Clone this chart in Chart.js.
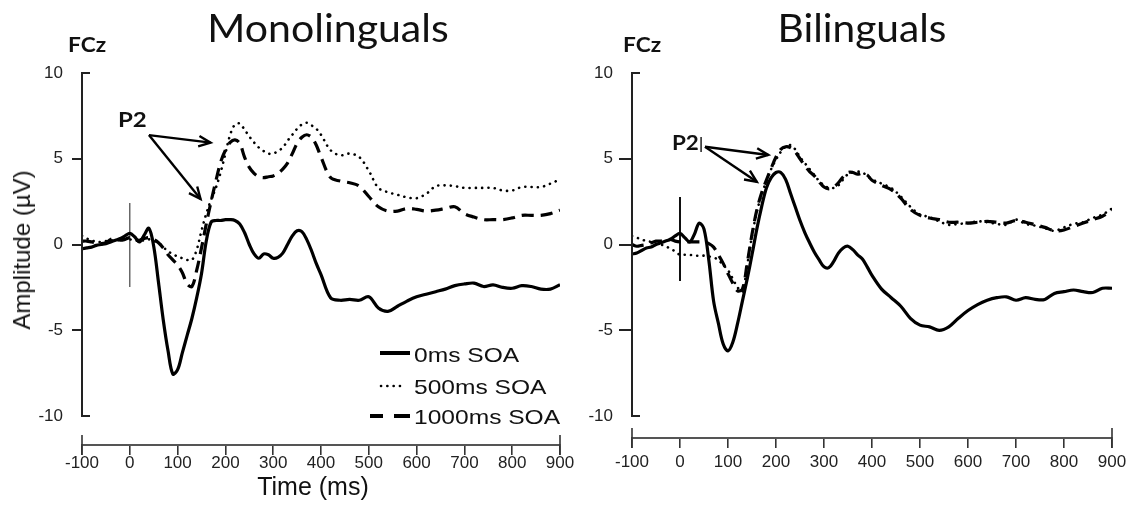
<!DOCTYPE html>
<html><head><meta charset="utf-8">
<script src="https://cdn.jsdelivr.net/npm/chart.js@4.4.0/dist/chart.umd.min.js"></script>
<style>
html,body{margin:0;padding:0;background:#fff}
body{width:1126px;height:515px;overflow:hidden;position:relative;font-family:'Liberation Sans',Arial,sans-serif}
canvas{position:absolute;top:0}
.t{position:absolute;white-space:nowrap;color:#111;line-height:1}
.cal{font-family:Lato,'Open Sans',sans-serif}
.b{font-weight:bold}
.leg{font-size:21px;transform:scaleX(1.17);transform-origin:0 0;color:#111}
</style></head><body>
<canvas id="mono" width="582" height="515" style="left:0"></canvas>
<canvas id="bi" width="561" height="515" style="left:565px"></canvas>

<div class="t cal" style="font-size:38px;left:328px;top:8px;transform:translateX(-50%) scaleX(1.08)">Monolinguals</div>
<div class="t cal" style="font-size:38px;left:862px;top:8px;transform:translateX(-50%) scaleX(1.07)">Bilinguals</div>
<div class="t cal b" style="font-size:21px;left:68px;top:33px;transform:scaleX(1.08);transform-origin:0 0">FCz</div>
<div class="t cal b" style="font-size:21px;left:623px;top:33px;transform:scaleX(1.08);transform-origin:0 0">FCz</div>
<div class="t cal b" style="font-size:20px;left:118px;top:109px;transform:scaleX(1.2);transform-origin:0 0">P2</div>
<div class="t cal" style="font-size:20px;left:672px;top:132px;transform:scaleX(1.12);transform-origin:0 0"><span class="b">P2</span><span style="font-family:'Liberation Sans';font-size:16px;position:relative;top:-1px">|</span></div>
<div class="t" style="font-size:24px;left:22px;top:250px;transform:translate(-50%,-50%) rotate(-90deg)">Amplitude (µV)</div>
<div class="t" style="font-size:25px;left:313px;top:474px;transform:translateX(-50%)">Time (ms)</div>

<svg width="1126" height="515" style="position:absolute;left:0;top:0;pointer-events:none">
 <line x1="380" y1="353" x2="410" y2="353" stroke="#000" stroke-width="4"/>
 <line x1="381" y1="386" x2="406" y2="386" stroke="#000" stroke-width="2.6" stroke-dasharray="0.1 6.2" stroke-linecap="round"/>
 <line x1="370" y1="416" x2="410" y2="416" stroke="#000" stroke-width="4" stroke-dasharray="13 11 16"/>
</svg>
<div class="t leg" style="left:414px;top:344px">0ms SOA</div>
<div class="t leg" style="left:414px;top:376px">500ms SOA</div>
<div class="t leg" style="left:414px;top:406px">1000ms SOA</div>

<script>
// ---- data ----
const times = [-100,-90,-80,-70,-60,-50,-40,-30,-20,-10,0,10,20,30,40,50,60,70,80,90,100,110,120,130,140,150,160,170,180,190,200,210,220,230,240,250,260,270,280,290,300,310,320,330,340,350,360,370,380,390,400,420,440,460,480,500,520,540,560,580,600,620,640,660,680,700,720,740,760,780,800,820,840,860,880,900];

const mono0 = [-0.25,-0.2,-0.15,-0.05,0.0,0.05,0.15,0.25,0.35,0.5,
  0.65,0.45,0.15,0.55,0.95,-0.1,-2.2,-4.4,-6.2,-7.55,
  -7.3,-6.3,-5.3,-4.3,-3.1,-1.7,0.2,1.3,1.4,1.4,
  1.45,1.45,1.4,1.2,0.7,0.0,-0.55,-0.8,-0.55,-0.6,
  -0.8,-0.75,-0.5,0.0,0.5,0.8,0.75,0.3,-0.35,-1.1,
  -1.75,
  -3.1,-3.25,-3.2,-3.25,-3.05,-3.7,-3.9,-3.6,-3.3,-3.05,
  -2.9,-2.75,-2.6,-2.4,-2.3,-2.25,-2.45,-2.35,-2.5,-2.55,
  -2.4,-2.45,-2.6,-2.6,-2.35];
const mono500 = [0.5,0.35,0.25,0.15,0.15,0.2,0.25,0.2,0.3,0.35,
  0.3,0.25,0.2,0.25,0.3,0.2,0.1,-0.15,-0.4,-0.55,
  -0.7,-0.8,-0.9,-0.9,-0.3,0.8,1.8,2.6,3.3,4.2,
  5.3,6.4,7.0,7.05,6.7,6.3,5.95,5.65,5.45,5.3,
  5.3,5.45,5.65,6.05,6.4,6.75,7.0,7.1,6.95,6.75,
  6.4,
  5.5,5.2,5.3,5.1,4.3,3.3,3.05,2.9,2.75,2.7,
  2.95,3.4,3.45,3.4,3.3,3.3,3.3,3.3,3.15,3.15,
  3.35,3.35,3.35,3.55,3.8];
const mono1000 = [0.2,0.2,0.15,0.1,0.05,0.1,0.3,0.35,0.25,0.3,
  0.4,0.3,0.25,0.35,0.4,0.3,0.1,-0.2,-0.6,-0.9,
  -1.2,-1.65,-2.3,-2.45,-1.5,-0.2,1.2,2.5,3.7,4.8,
  5.5,5.95,6.1,5.9,5.1,4.5,4.15,3.95,3.9,3.95,
  4.0,4.15,4.4,4.75,5.3,5.9,6.25,6.4,6.25,5.8,
  5.1,
  3.9,3.7,3.6,3.4,2.8,2.2,1.95,1.95,2.1,2.05,
  1.95,2.0,2.1,2.2,1.8,1.6,1.45,1.45,1.45,1.55,
  1.7,1.7,1.7,1.8,2.0];

const bi0 = [-0.55,-0.5,-0.35,-0.2,-0.15,0.0,0.1,0.2,0.3,0.5,
  0.65,0.4,0.15,0.6,1.25,0.9,-0.9,-3.3,-4.6,-5.8,
  -6.2,-5.7,-4.6,-3.3,-2.0,-0.6,0.9,2.2,3.3,3.9,
  4.2,4.2,3.8,3.0,2.2,1.4,0.7,0.1,-0.45,-0.9,
  -1.3,-1.35,-1.0,-0.5,-0.2,-0.1,-0.3,-0.6,-0.85,-1.3,
  -1.8,
  -2.6,-3.1,-3.6,-4.3,-4.7,-4.8,-5.0,-4.8,-4.3,-3.85,
  -3.5,-3.25,-3.1,-3.05,-3.25,-3.1,-3.2,-3.2,-2.85,-2.75,
  -2.65,-2.75,-2.8,-2.55,-2.55];
const bi500 = [0.5,0.4,0.3,0.2,0.15,0.05,0.0,-0.1,-0.25,-0.4,
  -0.6,-0.6,-0.6,-0.65,-0.65,-0.65,-0.7,-0.75,-0.9,-1.2,
  -1.5,-2.0,-2.5,-2.75,-1.2,0.5,1.9,2.9,3.7,4.4,
  4.95,5.4,5.7,5.8,5.55,5.1,4.75,4.4,4.05,3.7,
  3.45,3.3,3.3,3.45,3.8,4.1,4.2,4.25,4.2,4.0,
  3.8,
  3.55,3.3,2.8,2.2,1.75,1.6,1.35,1.15,1.2,1.25,
  1.35,1.3,1.2,1.15,1.45,1.2,1.1,0.95,0.8,1.0,
  1.2,1.3,1.55,1.75,2.1];
const bi1000 = [0.0,-0.1,-0.05,0.0,0.1,0.2,0.2,0.25,0.3,0.2,
  0.15,0.15,0.15,0.15,0.15,0.15,0.05,-0.15,-0.6,-1.1,
  -1.7,-2.25,-2.7,-2.6,-1.1,0.6,2.0,3.0,3.75,4.45,
  5.1,5.55,5.7,5.65,5.4,5.0,4.6,4.25,4.0,3.65,
  3.35,3.25,3.35,3.6,3.95,4.2,4.2,4.1,4.15,4.05,
  3.75,
  3.45,3.2,2.7,2.05,1.7,1.55,1.45,1.3,1.3,1.25,
  1.3,1.35,1.3,1.25,1.4,1.3,1.15,1.0,0.8,0.85,
  1.05,1.25,1.45,1.65,2.0];

const xTicks = [-100,0,100,200,300,400,500,600,700,800,900];
const yTicks = [-10,-5,0,5,10];
const stimTimes = [0,0];
const stimMono = [2.42,-2.48];
const stimBi = [2.77,-2.13];
const p2MonoFrom = [40,6.38];
const p2MonoTips = [[169,5.94],[148,2.65]];
const p2BiFrom = [52,5.7];
const p2BiTips = [[184,5.22],[160,3.66]];

// ---- chart construction ----
const pairs = (xs, ys) => xs.map((x,i)=>({x:x,y:ys[i]}));
const tickFont = {family:"'Liberation Sans', Arial, sans-serif", size:17};

function decor(cfg){
  return {id:'decor', afterDraw(chart){
    const ctx = chart.ctx, a = chart.chartArea, x = chart.scales.x, y = chart.scales.y;
    ctx.save();
    ctx.strokeStyle = '#222'; ctx.lineWidth = 2; ctx.lineCap = 'butt';
    const yt = y.getPixelForValue(yTicks[yTicks.length-1]), yb = y.getPixelForValue(yTicks[0]);
    ctx.beginPath();
    ctx.moveTo(a.left + cfg.foot, yt); ctx.lineTo(a.left, yt); ctx.lineTo(a.left, yb); ctx.lineTo(a.left + cfg.foot, yb);
    ctx.stroke();
    ctx.strokeStyle = '#333'; ctx.lineWidth = 1.6;
    [xTicks[0], xTicks[xTicks.length-1]].forEach(v=>{
      const px = x.getPixelForValue(v);
      ctx.beginPath(); ctx.moveTo(px, a.bottom - cfg.endUp); ctx.lineTo(px, a.bottom + cfg.xTick); ctx.stroke();
    });
    ctx.strokeStyle = '#000'; ctx.lineWidth = 2.4; ctx.lineJoin = 'miter';
    const ox = x.getPixelForValue(cfg.p2From[0]), oy = y.getPixelForValue(cfg.p2From[1]);
    cfg.p2Tips.forEach(tp=>{
      const px = x.getPixelForValue(tp[0]), py = y.getPixelForValue(tp[1]);
      ctx.beginPath(); ctx.moveTo(ox, oy); ctx.lineTo(px, py); ctx.stroke();
      const ang = Math.atan2(py-oy, px-ox), h = 13, w = 0.42;
      ctx.beginPath();
      ctx.moveTo(px - h*Math.cos(ang-w), py - h*Math.sin(ang-w));
      ctx.lineTo(px, py);
      ctx.lineTo(px - h*Math.cos(ang+w), py - h*Math.sin(ang+w));
      ctx.stroke();
    });
    ctx.restore();
  }};
}

function build(id, cfg){
  return new Chart(document.getElementById(id), {
    type:'line',
    data:{datasets:[
      {label:'1000ms SOA', data:pairs(times,cfg.s1000), borderColor:'#000', borderWidth:3.2, borderDash:[12,7], tension:0.35},
      {label:'500ms SOA', data:pairs(times,cfg.s500), borderColor:'#000', borderWidth:2.6, borderDash:[0.1,6.2], borderCapStyle:'round', tension:0.35},
      {label:'0ms SOA', data:pairs(times,cfg.s0), borderColor:'#000', borderWidth:3.2, tension:0.35},
      {label:'stim', data:pairs(stimTimes,cfg.stim), borderColor:cfg.stimColor, borderWidth:cfg.stimWidth, tension:0}
    ]},
    options:{
      responsive:false, animation:false, devicePixelRatio:1,
      layout:{padding:{left:0, top:73, right:cfg.padRight, bottom:0}},
      elements:{point:{radius:0, hoverRadius:0}},
      plugins:{legend:{display:false}, tooltip:{enabled:false}},
      events:[],
      scales:{
        x:{type:'linear', min:-100, max:900,
          afterBuildTicks:s=>{s.ticks = xTicks.map(v=>({value:v}));},
          afterFit:s=>{s.height = cfg.xH; s.paddingLeft = 0; s.paddingRight = 0;},
          ticks:{autoSkip:false, maxRotation:0, minRotation:0, padding:cfg.xPad, color:'#222', font:tickFont, callback:v=>String(v)},
          grid:{drawOnChartArea:false, drawTicks:true, tickLength:cfg.xTick, color:'#333', lineWidth:1.6},
          border:{display:true, color:'#555', width:2}},
        y:{type:'linear', min:cfg.yMin, max:10,
          afterBuildTicks:s=>{s.ticks = yTicks.map(v=>({value:v}));},
          afterFit:s=>{s.width = cfg.yW; s.paddingTop = 0; s.paddingBottom = 0;},
          ticks:{padding:cfg.yPad, color:'#222', font:tickFont, callback:v=>String(v)},
          grid:{drawOnChartArea:false, drawTicks:true, tickLength:cfg.yTick, lineWidth:2,
            color:c=>(c.tick && Math.abs(c.tick.value)===10) ? 'rgba(0,0,0,0)' : '#222'},
          border:{display:false}}
      }
    },
    plugins:[decor(cfg)]
  });
}

build('mono', {s0:mono0, s500:mono500, s1000:mono1000, stim:stimMono, stimColor:'#444', stimWidth:1.2,
  padRight:22, yMin:-11.69, yW:82, yTick:10, yPad:9, xH:70, xTick:10, xPad:-2, foot:8, endUp:10,
  p2From:p2MonoFrom, p2Tips:p2MonoTips});
build('bi', {s0:bi0, s500:bi500, s1000:bi1000, stim:stimBi, stimColor:'#111', stimWidth:2,
  padRight:14, yMin:-11.28, yW:67, yTick:13, yPad:6, xH:77, xTick:10, xPad:4, foot:8, endUp:10,
  p2From:p2BiFrom, p2Tips:p2BiTips});
</script>
</body></html>
